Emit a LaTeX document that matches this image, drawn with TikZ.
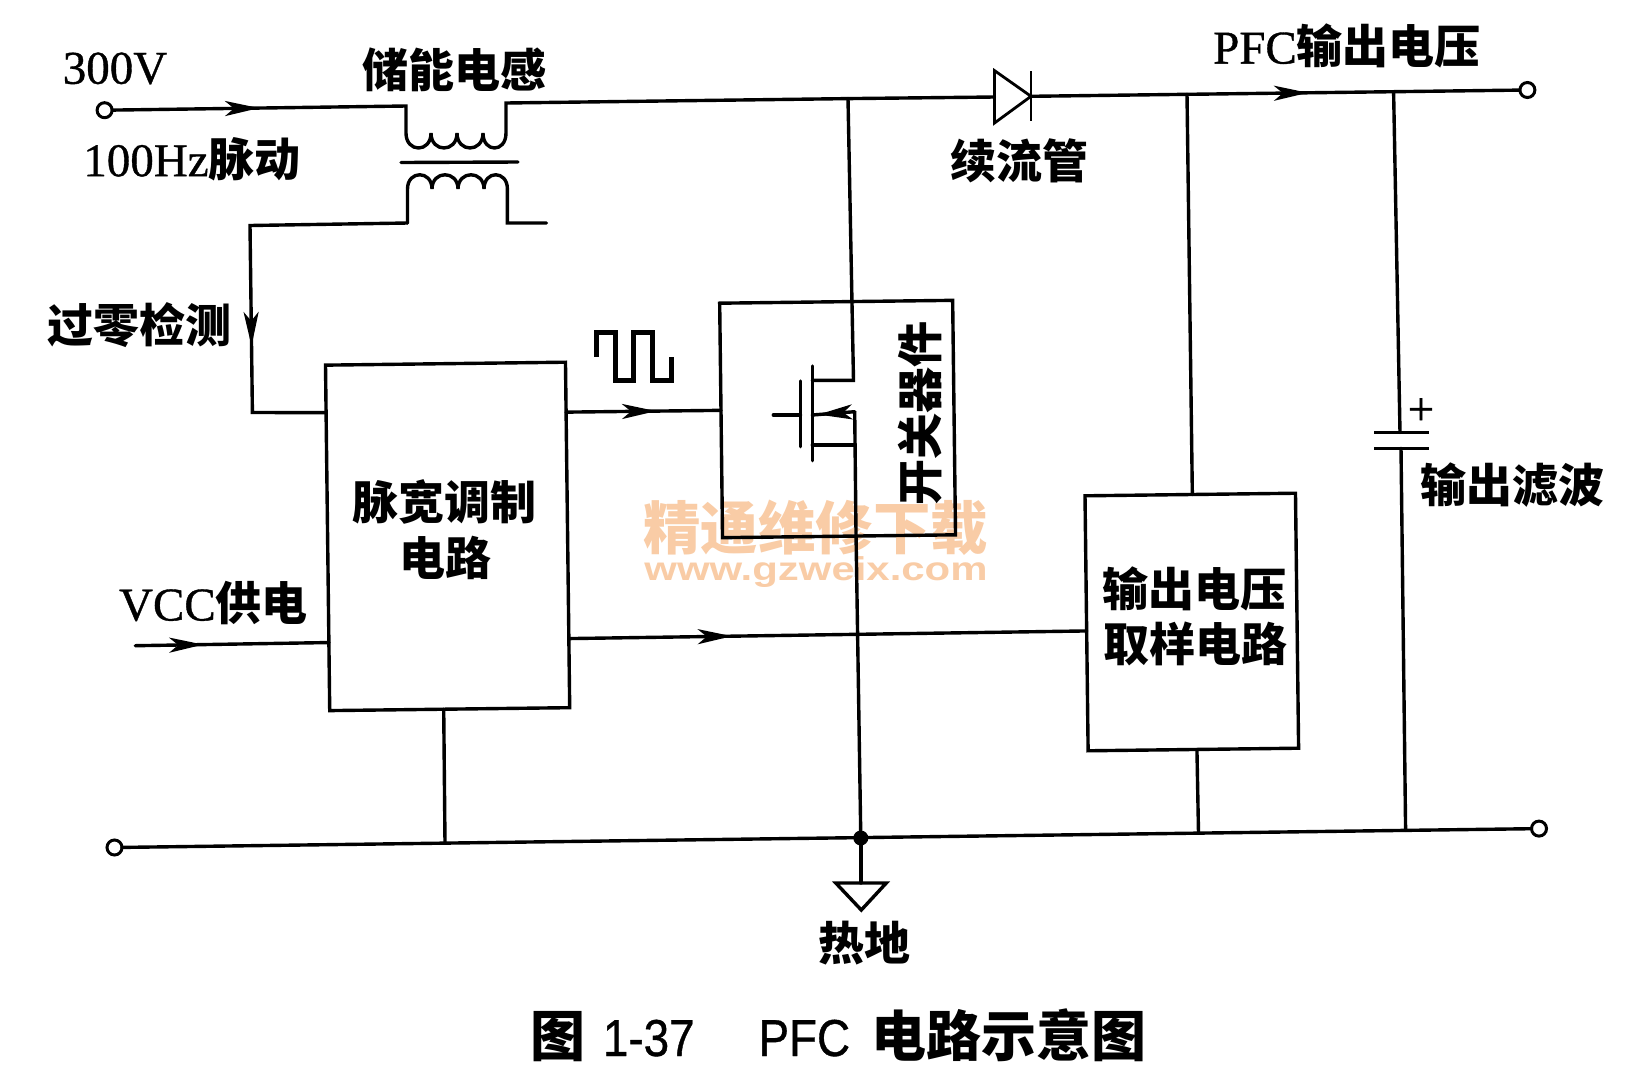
\documentclass[tikz,border=0pt]{standalone}
\usepackage{fontspec}
\usetikzlibrary{arrows.meta,calc,decorations.markings}
\setmainfont{Liberation Serif}
\setsansfont{Liberation Sans}
\newfontfamily\cjk{Noto Sans CJK SC}
\newfontfamily\heavyserif{Liberation Serif}[FakeBold=0.8]
\newfontfamily\heavysans{Liberation Sans}[FakeBold=0.8]
\newcommand\cnf{\fontsize{46}{50}\selectfont\cjk\bfseries}
\newcommand\ltf{\fontsize{47}{50}\selectfont\heavyserif}
\newcommand\capcn{\fontsize{55}{57}\selectfont\cjk\bfseries}
\definecolor{wm}{HTML}{F9CCA6}
\tikzset{
  wire/.style={line width=3.4pt,line cap=round,line join=miter},
  fine/.style={line width=2.8pt,line cap=butt},
  blockbox/.style={draw,line width=3.4pt,inner sep=0pt,outer sep=0pt,rotate=0.7},
  term/.style={draw,circle,line width=3pt,fill=white,minimum size=15pt,inner sep=0pt,outer sep=0pt},
  dotj/.style={fill,circle,minimum size=15pt,inner sep=0pt,outer sep=0pt},
  lab/.style={inner sep=0pt,outer sep=0pt,text=black},
  cnlab/.style={lab,font=\cnf},
  ltlab/.style={lab,font=\ltf},
  flowarrow/.style={postaction={decorate,decoration={markings,mark=at position #1 with {\arrow{Stealth[length=34pt,width=15pt,inset=9pt]}}}}}
}
\begin{document}
\begin{tikzpicture}[x=1pt,y=-1pt]
\useasboundingbox (0,0) rectangle (1631,1080);
\fill[white] (0,0) rectangle (1631,1080);

% watermark
\node[lab,text=wm,font=\fontsize{57.5}{60}\selectfont\cjk\bfseries] (wm1) at (815.5,528) {精通维修下载};
\node[lab,text=wm,font=\fontsize{33}{36}\selectfont\sffamily\bfseries] (wm2) at (816,572) {\scalebox{1.27}[1]{www.gzweix.com}};

% blocks
\node[blockbox,minimum width=240pt,minimum height=345.5pt] (pwm) at (447.6,536.4) {};
\node[blockbox,minimum width=233pt,minimum height=234.5pt] (sw) at (837.6,419) {};
\node[blockbox,minimum width=210.5pt,minimum height=255pt] (samp) at (1191.8,622) {};

% terminals
\node[term] (tin) at (104.6,110.2) {};
\node[term] (tout) at (1527.4,90) {};
\node[term] (tgl) at (114.5,847.5) {};
\node[term] (tgr) at (1539,828.6) {};
\node[dotj] (jg) at (860.8,838) {};

% junction coordinates
\coordinate (jd) at (848,98.6);
\coordinate (js) at (1187,94.3);
\coordinate (jc) at (1393.6,91.7);
\coordinate (ja) at (1031,96.3);
\coordinate (dk) at (994.5,97);
\coordinate (rp) at (445,843.1);
\coordinate (rs) at (1198.5,833);
\coordinate (rc) at (1405.6,830.3);

% input and inductor upper winding
\draw[wire,flowarrow=147pt] (tin) -- (406,106) -- (406,133)
  .. controls (406,153) and (431,153) .. (431,133)
  .. controls (431,153) and (457,153) .. (457,133)
  .. controls (457,153) and (483,153) .. (483,133)
  .. controls (483,153) and (506,153) .. (506,133)
  -- (506,103) -- (jd) -- (dk);
% core
\draw[wire] (401,162.5) -- (518,162);
% lower winding and zero-detect line
\draw[wire,flowarrow=278pt] (407.5,223) -- (250,225.5) -- (252.4,412.5) -- ($(pwm.north west)!.1375!(pwm.south west)$);
\draw[wire] (407.5,223) -- (407.5,189)
  .. controls (407.5,170) and (432,170) .. (432,189)
  .. controls (432,170) and (458,170) .. (458,189)
  .. controls (458,170) and (484,170) .. (484,189)
  .. controls (484,170) and (507.4,170) .. (507.4,189)
  -- (507.4,223) -- (546.4,223);
% diode
\draw[fine,line join=miter] (994.5,70.6) -- (994.5,123) -- (ja) -- cycle;
\draw[fine] (1031,71) -- (1031,121);
% output line
\draw[wire,flowarrow=277pt] (ja) -- (tout);
% verticals
\draw[wire] (js) -- ($(samp.north west)!.51!(samp.north east)$);
\draw[wire] (jc) -- (1400,432.5);
\draw[wire] (1401,448.3) -- (rc);
% capacitor
\draw[line width=3.5pt] (1374,432.5) -- (1428.5,432.5);
\draw[line width=3.5pt] (1374,448.3) -- (1428.5,448.3);
% bottom rail
\draw[wire] (tgl) -- (tgr);
\draw[wire] ($(pwm.south west)!.475!(pwm.south east)$) -- (rp);
\draw[wire] ($(samp.south west)!.517!(samp.south east)$) -- (rs);
% signal lines
\draw[wire,flowarrow=90pt] ($(pwm.north east)!.1445!(pwm.south east)$) -- ($(sw.north west)!.457!(sw.south west)$);
\draw[wire,flowarrow=68pt] (135.3,645.7) -- ($(pwm.north west)!.803!(pwm.south west)$);
\draw[wire,flowarrow=163pt] ($(pwm.north east)!.80!(pwm.south east)$) -- ($(samp.north west)!.53!(samp.south west)$);
% pulse
\draw[line width=5pt,line join=miter] (596,356.7) -- (596,332.7) -- (615,332.7) -- (615,380) -- (633.3,380) -- (633.3,332.7) -- (652.3,332.7) -- (652.3,380) -- (671,380) -- (671,356.7);
% MOSFET
\draw[wire] (773.3,415) -- (800.5,415);
\draw[wire] (800.3,381) -- (800.3,446.7);
\draw[wire] (812.3,366) -- (812.3,460.7);
\draw[wire] (jd) -- (853.5,380.3) -- (812.3,380.3);
\draw[wire,flowarrow=36.5pt] (854.7,411.7) -- (812.3,415);
\draw[wire] (812.3,445) -- (855,445);
\draw[wire] (854.7,411.7) -- (856,533) -- (jg);
% ground
\draw[wire] (jg) -- (860.8,883);
\draw[wire,line join=miter] (835.8,883) -- (886.3,883) -- (861.3,910) -- cycle;

% labels
\node[ltlab] (l300) at (115,68.5) {300V};
\node[cnlab] (lind) at (454.5,70) {储能电感};
\node[ltlab] (l100) at (192,159) {100Hz{\cnf 脉动}};
\node[cnlab] (lzero) at (139,325) {过零检测};
\node[cnlab] (lpwm1) at (444.5,502) {脉宽调制};
\node[cnlab] (lpwm2) at (445.5,558) {电路};
\node[ltlab] (lvcc) at (213.4,603) {VCC{\cnf 供电}};
\node[cnlab] (lfly) at (1019.5,161) {续流管};
\node[ltlab] (lpfc) at (1347,46) {PFC{\cnf 输出电压}};
\node[cnlab,rotate=90] (lsw) at (920,413) {开关器件};
\node[cnlab] (lout) at (1512,485) {输出滤波};
\node[cnlab] (ls1) at (1194,589) {输出电压};
\node[cnlab] (ls2) at (1195,644) {取样电路};
\node[cnlab] (lgnd) at (864,943) {热地};
\node[ltlab] (lplus) at (1421,411.5) {+};
\node[lab,anchor=base west,font=\fontsize{52}{56}\selectfont\heavysans] (cap) at (530,1056)
  {{\capcn 图}\hspace{18pt}\scalebox{.88}[1]{1-37}\hspace{64pt}\scalebox{.88}[1]{PFC}\hspace{21pt}{\capcn 电路示意图}};
\end{tikzpicture}
\end{document}
